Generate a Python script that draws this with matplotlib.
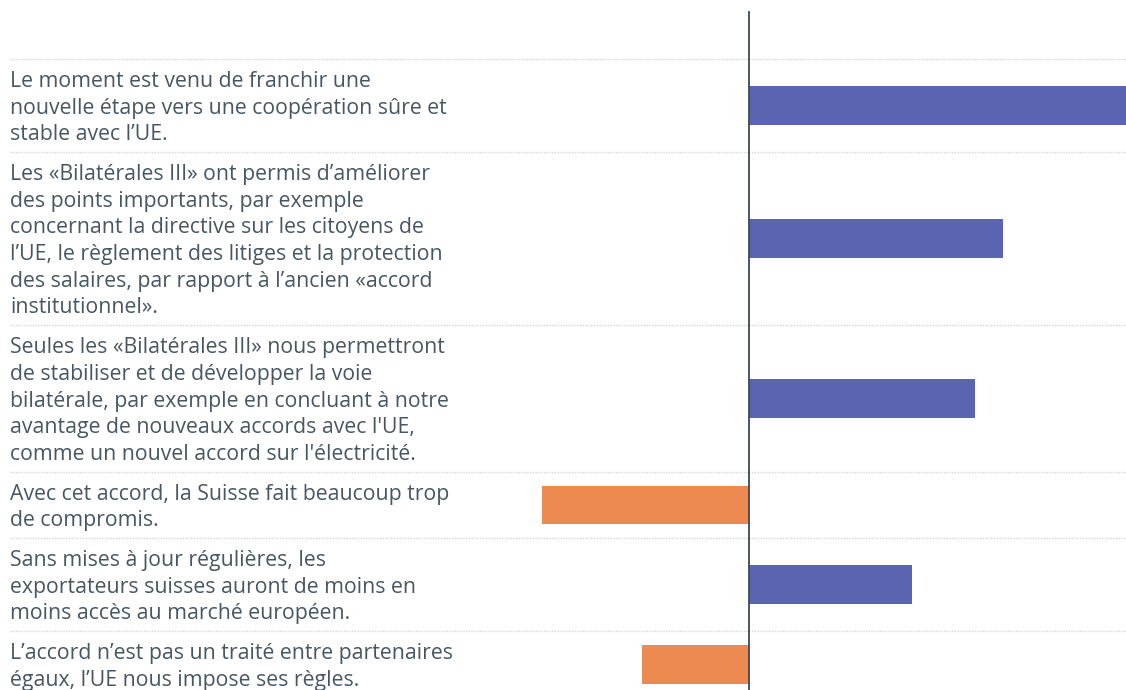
import matplotlib.pyplot as plt
from matplotlib.transforms import blended_transform_factory

# statements (already wrapped as in the original)
labels = [
    "Le moment est venu de franchir une\nnouvelle étape vers une coopération sûre et\nstable avec l’UE.",
    "Les «Bilatérales III» ont permis d’améliorer\ndes points importants, par exemple\nconcernant la directive sur les citoyens de\nl’UE, le règlement des litiges et la protection\ndes salaires, par rapport à l’ancien «accord\ninstitutionnel».",
    "Seules les «Bilatérales III» nous permettront\nde stabiliser et de développer la voie\nbilatérale, par exemple en concluant à notre\navantage de nouveaux accords avec l'UE,\ncomme un nouvel accord sur l'électricité.",
    "Avec cet accord, la Suisse fait beaucoup trop\nde compromis.",
    "Sans mises à jour régulières, les\nexportateurs suisses auront de moins en\nmoins accès au marché européen.",
    "L’accord n’est pas un traité entre partenaires\négaux, l’UE nous impose ses règles.",
]
values = [45, 29.6, 26.4, -24.2, 19.0, -12.5]

blue = "#5a64b0"
orange = "#ec8a4f"
text_col = "#465763"

plt.rcParams['font.family'] = ['Open Sans', 'DejaVu Sans']

fig = plt.figure(figsize=(11.26, 6.90), dpi=100)
ax = fig.add_axes([0, 0, 1, 1])

# x scale: zero line at 749 px, 8.57 px per unit
px_per_unit = 8.57
ax.set_xlim(-749 / px_per_unit, 377 / px_per_unit)
ax.set_ylim(690, 0)  # y in pixels, top-down

line_h = 26.7
pad = 13
y = 59
tr = blended_transform_factory(ax.transAxes, ax.transData)
ax.axhline(y, xmin=10 / 1126, xmax=1, color="#d6d6d6", lw=1, ls=(0, (1, 1)))
for lab, v in zip(labels, values):
    n = lab.count("\n") + 1
    h = n * line_h + pad
    c = y + h / 2
    ax.barh(c, v, height=38.5, color=blue if v > 0 else orange, left=0)
    ax.text(10 / 1126, c + 2.5, lab, transform=tr, ha="left", va="center",
            fontsize=15.3, color=text_col, linespacing=1.35)
    y += h
    ax.axhline(y, xmin=10 / 1126, xmax=1, color="#d6d6d6", lw=1, ls=(0, (1, 1)))

ax.plot([0, 0], [12, 690], color="#3b4a54", lw=1.3)
ax.axis("off")

fig.savefig("out.png", dpi=100)
